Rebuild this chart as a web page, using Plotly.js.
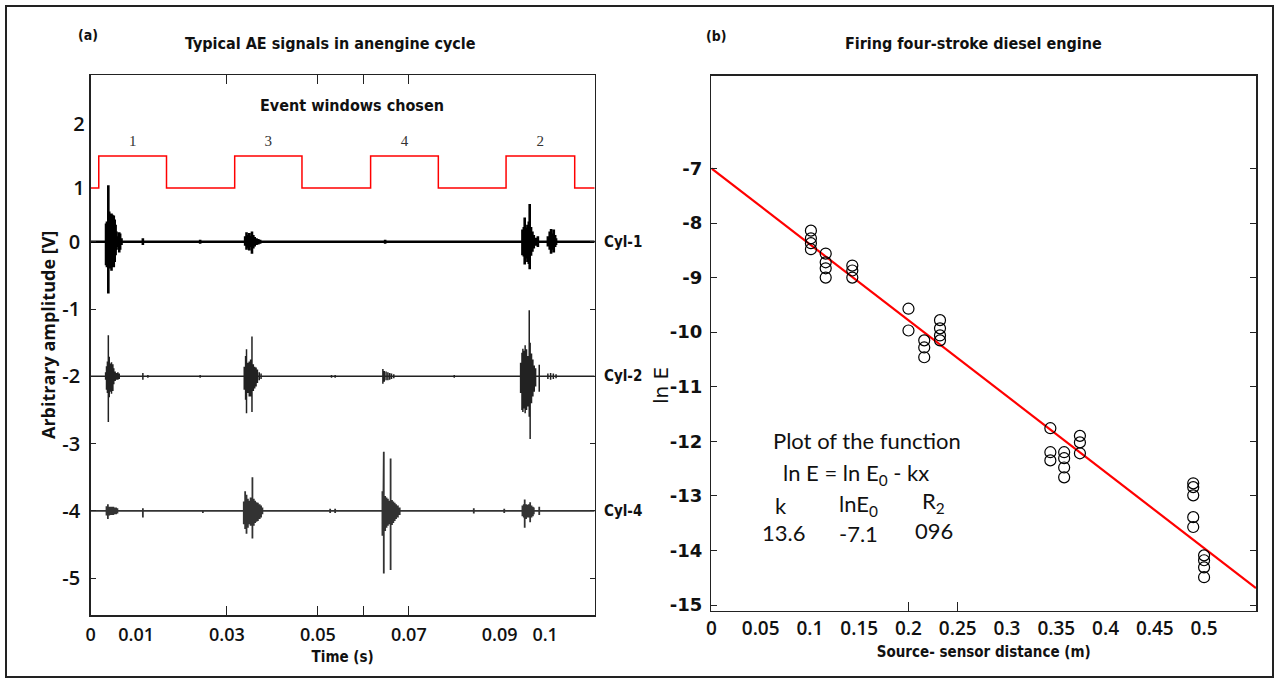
<!DOCTYPE html>
<html>
<head>
<meta charset="utf-8">
<script src="https://cdn.plot.ly/plotly-3.0.1.min.js"></script>
<style>html,body{margin:0;padding:0;background:#fff;}#chart{width:1277px;height:678px;}</style>
</head>
<body>
<div id="chart"></div>
<script>
// ---------- Panel (a): event windows ----------
const windowStart = [0.0018, 0.0317, 0.0616, 0.0914];
const windowEnd   = [0.0167, 0.0465, 0.0765, 0.1065];
const windowLow = 1.0, windowHigh = 1.5;
const windowLabels = ['1', '3', '4', '2'];
const windowLabelLevel = 1.72;
const timeEnd = 0.1109;

// ---------- Panel (a): AE signals (spike time, positive peak, negative peak) ----------
const cyl1Base = 0;
const cyl1T    = [0.0034,0.0036,0.0039,0.0041,0.0044,0.0046,0.0048,0.0051,0.0053,0.0055,0.0057,0.0060,0.0063,0.0065,0.0068,0.0115,0.0241,
                  0.0340,0.0343,0.0346,0.0349,0.0352,0.0355,0.0358,0.0361,0.0365,0.0369,0.0373,0.0648,
                  0.0950,0.0953,0.0955,0.0958,0.0961,0.0964,0.0966,0.0969,0.0972,0.0975,0.0979,0.0984,
                  0.1006,0.1010,0.1013,0.1016,0.1019,0.1022,0.1024];
const cyl1Up   = [0.27,0.30,0.84,0.45,0.38,0.42,0.40,0.39,0.33,0.25,0.15,0.08,0.14,0.12,0.05,0.05,0.03,
                  0.08,0.14,0.10,0.13,0.09,0.15,0.10,0.07,0.05,0.04,0.03,0.03,
                  0.18,0.22,0.36,0.21,0.25,0.30,0.56,0.22,0.15,0.10,0.06,0.08,
                  0.08,0.15,0.19,0.12,0.18,0.10,0.05];
const cyl1Down = [0.35,0.38,0.77,0.35,0.40,0.43,0.36,0.38,0.30,0.20,0.12,0.08,0.16,0.12,0.05,0.05,0.03,
                  0.06,0.12,0.09,0.13,0.08,0.18,0.10,0.07,0.05,0.04,0.03,0.03,
                  0.20,0.22,0.34,0.25,0.30,0.33,0.41,0.21,0.15,0.10,0.06,0.08,
                  0.07,0.12,0.18,0.12,0.16,0.08,0.05];

const cyl2Base = -2;
const cyl2T    = [0.0033,0.0035,0.0037,0.0039,0.0041,0.0044,0.0046,0.0049,0.0051,0.0054,0.0057,0.0060,0.0063,0.0115,0.0126,0.0241,
                  0.0338,0.0341,0.0343,0.0346,0.0349,0.0352,0.0355,0.0358,0.0361,0.0364,0.0367,0.0371,0.0375,0.0530,0.0538,
                  0.0643,0.0646,0.0650,0.0654,0.0658,0.0662,0.0667,0.0800,
                  0.0946,0.0949,0.0951,0.0954,0.0956,0.0959,0.0962,0.0965,0.0967,0.0970,0.0973,0.0976,0.0979,0.0987,
                  0.1006,0.1012,0.1018,0.1024];
const cyl2Up   = [0.06,0.15,0.22,0.61,0.29,0.19,0.21,0.18,0.12,0.07,0.05,0.06,0.04,0.05,0.02,0.02,
                  0.14,0.30,0.40,0.20,0.22,0.25,0.59,0.18,0.14,0.13,0.10,0.06,0.04,0.02,0.02,
                  0.11,0.08,0.07,0.06,0.05,0.04,0.03,0.02,
                  0.20,0.35,0.41,0.38,0.46,0.40,0.30,0.98,0.50,0.34,0.25,0.16,0.12,0.17,
                  0.04,0.05,0.04,0.03];
const cyl2Down = [0.05,0.20,0.25,0.68,0.31,0.23,0.26,0.22,0.12,0.07,0.05,0.05,0.04,0.05,0.02,0.02,
                  0.20,0.35,0.55,0.25,0.30,0.30,0.53,0.22,0.18,0.15,0.10,0.06,0.04,0.02,0.02,
                  0.11,0.08,0.06,0.06,0.05,0.04,0.03,0.02,
                  0.25,0.50,0.53,0.48,0.55,0.50,0.45,0.60,0.93,0.40,0.30,0.23,0.15,0.23,
                  0.04,0.05,0.04,0.03];

const cyl4Base = -4;
const cyl4T    = [0.0035,0.0038,0.0041,0.0044,0.0047,0.0050,0.0053,0.0056,0.0059,0.0115,0.0247,
                  0.0337,0.0340,0.0343,0.0346,0.0349,0.0352,0.0356,0.0359,0.0362,0.0365,0.0368,0.0372,0.0375,0.0378,0.0527,0.0538,
                  0.0642,0.0644,0.0645,0.0648,0.0651,0.0654,0.0657,0.0660,0.0663,0.0666,0.0669,0.0672,0.0676,0.0680,
                  0.0808,0.0843,0.0910,
                  0.0950,0.0953,0.0955,0.0958,0.0961,0.0964,0.0967,0.0970,0.0973,0.0975,0.0987];
const cyl4Up   = [0.07,0.10,0.06,0.06,0.06,0.06,0.05,0.05,0.04,0.04,0.01,
                  0.14,0.29,0.24,0.18,0.15,0.20,0.50,0.18,0.15,0.13,0.12,0.10,0.08,0.05,0.03,0.03,
                  0.29,0.25,0.88,0.22,0.20,0.18,0.15,0.78,0.16,0.14,0.12,0.10,0.08,0.05,
                  0.01,0.04,0.03,
                  0.08,0.10,0.17,0.10,0.09,0.10,0.13,0.08,0.06,0.05,0.06];
const cyl4Down = [0.07,0.12,0.07,0.06,0.06,0.06,0.05,0.05,0.04,0.10,0.03,
                  0.20,0.27,0.34,0.25,0.20,0.22,0.41,0.22,0.18,0.16,0.15,0.12,0.10,0.05,0.03,0.03,
                  0.37,0.33,0.93,0.30,0.25,0.22,0.20,0.88,0.21,0.18,0.15,0.12,0.10,0.06,
                  0.01,0.04,0.03,
                  0.08,0.10,0.25,0.12,0.10,0.10,0.17,0.10,0.08,0.05,0.06];
const cylNames = ['Cyl-1', 'Cyl-2', 'Cyl-4'];
const cylBases = [cyl1Base, cyl2Base, cyl4Base];

// ---------- Panel (b): ln E vs source-sensor distance ----------
const distance = [0.101,0.101,0.101,0.101, 0.116,0.116,0.116,0.116, 0.143,0.143,0.143,
                  0.200,0.200, 0.216,0.216,0.216, 0.232,0.232,0.232,0.232,
                  0.344,0.344,0.344, 0.358,0.358,0.358,0.358, 0.374,0.374,0.374,
                  0.489,0.489,0.489,0.489,0.489, 0.500,0.500,0.500,0.500];
const lnE = [-8.14,-8.28,-8.37,-8.48, -8.56,-8.72,-8.83,-9.00, -8.78,-8.87,-9.00,
             -9.57,-9.97, -10.15,-10.28,-10.46, -9.78,-9.93,-10.06,-10.15,
             -11.76,-12.20,-12.35, -12.20,-12.31,-12.48,-12.66, -11.90,-12.02,-12.22,
             -12.77,-12.84,-12.99,-13.39,-13.57, -14.09,-14.18,-14.31,-14.49];
const fitX = [0, 0.5527];
const fitY = [-7.0, -14.69];

// ---------- tick labels ----------
const xTicksA = [0,0.01,0.03,0.05,0.07,0.09,0.1];
const xTickTextA = ['0','0.01','0.03','0.05','0.07','0.09','0.1'];
const yTicksA = [0,-1,-2,-3,-4,-5];
const yTickTextA = ['0','-1','-2','-3','-4','-5'];
const yTicksWin = [1,2];
const yTickTextWin = ['1','2'];
const xTicksB = [0,0.05,0.1,0.15,0.2,0.25,0.3,0.35,0.4,0.45,0.5];
const xTickTextB = ['0','0.05','0.1','0.15','0.2','0.25','0.3','0.35','0.4','0.45','0.5'];
const yTicksB = [-7,-8,-9,-10,-11,-12,-13,-14,-15];
const yTickTextB = ['-7','-8','-9','-10','-11','-12','-13','-14','-15'];
const fitLabels = ['k', 'lnE<sub>0</sub>', 'R<sub>2</sub>'];
const fitValues = ['13.6', '-7.1', '096'];

// ---------- helpers ----------
function stepTrace() {
  const x = [0], y = [windowLow];
  for (let i = 0; i < windowStart.length; i++) {
    x.push(windowStart[i], windowStart[i], windowEnd[i], windowEnd[i]);
    y.push(windowLow, windowHigh, windowHigh, windowLow);
  }
  x.push(timeEnd); y.push(windowLow);
  return {x, y};
}
function spikeTrace(base, t, up, down) {
  const x = [0], y = [base];
  for (let i = 0; i < t.length; i++) {
    x.push(t[i], t[i], t[i], t[i]);
    y.push(base, base + up[i], base - down[i], base);
  }
  x.push(timeEnd); y.push(base);
  return {x, y};
}
const W = 1277, H = 678;
const px = v => v / W, py = v => 1 - v / H;

const NARROW = "'Liberation Sans Narrow', 'DejaVu Sans Condensed', 'Liberation Sans', sans-serif";
const CAL = "Lato, 'Open Sans', sans-serif";

const st = stepTrace();
const s1 = spikeTrace(cyl1Base, cyl1T, cyl1Up, cyl1Down);
const s2 = spikeTrace(cyl2Base, cyl2T, cyl2Up, cyl2Down);
const s4 = spikeTrace(cyl4Base, cyl4T, cyl4Up, cyl4Down);

const traces = [
  {x: s1.x, y: s1.y, xaxis: 'x', yaxis: 'y', mode: 'lines', line: {color: '#000', width: 2.6}, hoverinfo: 'skip'},
  {x: s2.x, y: s2.y, xaxis: 'x', yaxis: 'y', mode: 'lines', line: {color: '#222', width: 1.5}, hoverinfo: 'skip'},
  {x: s4.x, y: s4.y, xaxis: 'x', yaxis: 'y', mode: 'lines', line: {color: '#333', width: 1.8}, hoverinfo: 'skip'},
  {x: st.x, y: st.y, xaxis: 'x', yaxis: 'y3', mode: 'lines', line: {color: '#ff0000', width: 1.5}, hoverinfo: 'skip'},
  {x: windowStart.map((s, i) => (s + windowEnd[i]) / 2), y: windowStart.map(() => windowLabelLevel), xaxis: 'x', yaxis: 'y3',
   mode: 'text', text: windowLabels, textfont: {family: "'Liberation Serif', serif", size: 15, color: '#333'}, hoverinfo: 'skip'},
  {x: fitX, y: fitY, xaxis: 'x2', yaxis: 'y2', mode: 'lines', line: {color: '#ff0000', width: 2.2}, hoverinfo: 'skip'},
  {x: distance, y: lnE, xaxis: 'x2', yaxis: 'y2', mode: 'markers',
   marker: {symbol: 'circle-open', size: 11, color: '#000', line: {width: 1.2}}, hoverinfo: 'skip'}
];

const tickFontA = {family: "'Open Sans', sans-serif", size: 20, color: '#111', weight: 600};
const annP = (text, x, y, font, extra) => Object.assign({text, x: px(x), y: py(y), xref: 'paper', yref: 'paper',
  showarrow: false, xanchor: 'center', yanchor: 'middle', font}, extra || {});
const fTitle = {family: NARROW, size: 16, color: '#111', weight: 'bold'};
const fCal = {family: CAL, size: 22, color: '#111'};

const annotations = [
  annP('(a)', 88, 35, {family: NARROW, size: 14, color: '#111', weight: 'bold'}),
  annP('Typical AE signals in anengine cycle', 330, 43, fTitle),
  annP('Event windows chosen', 352, 105, fTitle),
  annP('(b)', 716, 36, {family: NARROW, size: 14, color: '#111', weight: 'bold'}),
  annP('Firing four-stroke diesel engine', 973, 43, fTitle),
  annP('Arbitrary amplitude [V]', 48, 335, {family: "'Open Sans', sans-serif", size: 18, color: '#111', weight: 700}, {textangle: -90}),
  annP('ln E', 661, 386, {family: "'DejaVu Sans', sans-serif", size: 20, color: '#111'}, {textangle: -90}),
  annP('Plot of the function', 867, 440, fCal),
  annP('ln E = ln E<sub>0</sub> - kx', 856, 474, fCal),
  annP(fitLabels[0], 781, 505, fCal),
  annP(fitLabels[1], 858, 505, fCal),
  annP(fitLabels[2], 934, 502, fCal),
  annP(fitValues[0], 783, 532, fCal),
  annP(fitValues[1], 858, 533, fCal),
  annP(fitValues[2], 934, 530, fCal)
];
cylNames.forEach((name, i) => annotations.push({text: name, x: timeEnd, y: cylBases[i], xref: 'x', yref: 'y',
  showarrow: false, xanchor: 'left', yanchor: 'middle', xshift: 7, font: {family: NARROW, size: 15, color: '#111', weight: 'bold'}}));

const layout = {
  width: W, height: H,
  margin: {l: 0, r: 0, t: 0, b: 0},
  paper_bgcolor: '#fff', plot_bgcolor: '#fff',
  showlegend: false,
  xaxis: {
    domain: [px(90.6), px(594.7)], range: [0, 0.1109], anchor: 'y',
    tickmode: 'array', tickvals: xTicksA, ticktext: xTickTextA, ticks: '',
    minor: {tickmode: 'array', tickvals: [0.03, 0.05, 0.06, 0.07], ticks: 'inside', ticklen: 9, tickcolor: '#222', tickwidth: 1},
    showline: true, linecolor: '#222', linewidth: 1.5, mirror: 'ticks', showgrid: false, zeroline: false,
    tickfont: {family: "'Open Sans', sans-serif", size: 18, color: '#111', weight: 600}, ticklabelstandoff: 3,
    title: {text: 'Time (s)', font: {family: NARROW, size: 15, color: '#111', weight: 'bold'}, standoff: 6}
  },
  yaxis: {
    domain: [py(615), py(75)], range: [-5.547, 2.477], anchor: 'x',
    tickmode: 'array', tickvals: yTicksA, ticktext: yTickTextA, ticks: 'inside', ticklen: 5, tickcolor: '#222',
    showline: true, linecolor: '#222', linewidth: 1.5, mirror: 'ticks', showgrid: false, zeroline: false,
    tickfont: tickFontA, ticklabelstandoff: 5
  },
  yaxis3: {
    overlaying: 'y', anchor: 'x', side: 'left', range: [-5.672, 2.766],
    tickmode: 'array', tickvals: yTicksWin, ticktext: yTickTextWin, ticks: '', showline: false, showgrid: false, zeroline: false,
    tickfont: tickFontA, ticklabelstandoff: 5
  },
  xaxis2: {
    domain: [px(711.4), px(1256)], range: [0, 0.5527], anchor: 'y2',
    tickmode: 'array', tickvals: xTicksB, ticktext: xTickTextB, ticks: '',
    minor: {tickmode: 'array', tickvals: [0.2, 0.25], ticks: 'inside', ticklen: 9, tickcolor: '#222', tickwidth: 1},
    showline: true, linecolor: '#222', linewidth: 1.5, mirror: true, showgrid: false, zeroline: false,
    tickfont: {family: "'Open Sans', sans-serif", size: 19, color: '#111', weight: 600}, ticklabelstandoff: 0,
    title: {text: 'Source- sensor distance (m)', font: {family: NARROW, size: 15, color: '#111', weight: 'bold'}, standoff: 6}
  },
  yaxis2: {
    domain: [py(610.7), py(75.5)], range: [-15.104, -5.297], anchor: 'x2',
    tickmode: 'array', tickvals: yTicksB, ticktext: yTickTextB, ticks: 'inside', ticklen: 6, tickcolor: '#222',
    showline: true, linecolor: '#222', linewidth: 1.5, mirror: 'ticks', showgrid: false, zeroline: false,
    tickfont: {family: "'DejaVu Sans', sans-serif", size: 18, color: '#111', weight: 700}, ticklabelstandoff: 4
  },
  shapes: [
    {type: 'rect', xref: 'paper', yref: 'paper', x0: px(6), x1: px(1273), y0: py(677), y1: py(6),
     line: {color: '#222', width: 2}, fillcolor: 'rgba(0,0,0,0)', layer: 'above'}
  ],
  annotations
};

Plotly.newPlot('chart', traces, layout, {staticPlot: true, displayModeBar: false});
</script>
</body>
</html>
